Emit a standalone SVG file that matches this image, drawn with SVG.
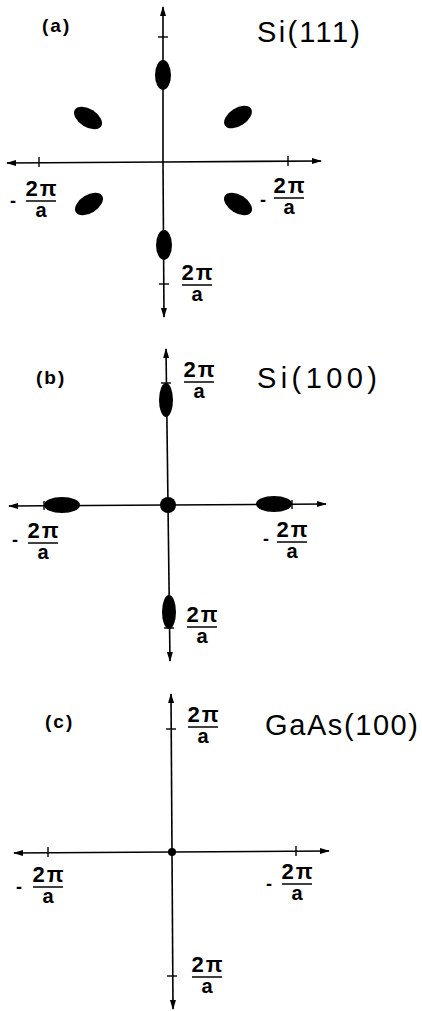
<svg xmlns="http://www.w3.org/2000/svg" width="422" height="1011" viewBox="0 0 422 1011">
<style>
.ax{stroke:#000;stroke-width:1.6;fill:none}
.tk{stroke:#000;stroke-width:1.4;fill:none}
.bar{stroke:#000;stroke-width:1.5}
.spot{fill:#000}
.num{font-family:"Liberation Sans",Arial,sans-serif;font-weight:bold;font-size:22px;text-anchor:middle;fill:#000}
.den{font-family:"Liberation Sans",Arial,sans-serif;font-weight:bold;font-size:20px;text-anchor:middle;fill:#000}
.neg{font-family:"Liberation Sans",Arial,sans-serif;font-weight:bold;font-size:18px;text-anchor:middle;fill:#000}
.pl{font-family:"Liberation Sans",Arial,sans-serif;font-weight:bold;font-size:19px;letter-spacing:2px;fill:#000}
.ttl{font-family:"Liberation Sans",Arial,sans-serif;font-size:29px;fill:#000}
</style>
<defs>
<marker id="arr" markerUnits="userSpaceOnUse" markerWidth="10" markerHeight="8" viewBox="0 0 10 8" refX="9" refY="4" orient="auto">
<path d="M0,1 L10,4 L0,7 Z" fill="#000"/>
</marker>
<g id="frac">
<text class="num" x="1" y="0" letter-spacing="2">2π</text>
<line class="bar" x1="-15" y1="5" x2="15" y2="5"/>
<text class="den" x="0" y="21">a</text>
</g>
</defs>

<!-- Panel (a) -->
<g id="panel-a">
<g id="axes-a">
<line class="ax" x1="163" y1="162" x2="163" y2="7" marker-end="url(#arr)"/>
<line class="ax" x1="163" y1="162" x2="164" y2="317" marker-end="url(#arr)"/>
<line class="ax" x1="163" y1="162" x2="7" y2="163" marker-end="url(#arr)"/>
<line class="ax" x1="163" y1="162" x2="321" y2="161" marker-end="url(#arr)"/>
<line class="tk" x1="158" y1="37" x2="168" y2="37"/>
<line class="tk" x1="159" y1="284" x2="169" y2="284"/>
<line class="tk" x1="39" y1="157" x2="39" y2="167"/>
<line class="tk" x1="288" y1="156" x2="288" y2="166"/>
</g>
<g id="a-spot-top"><ellipse class="spot" cx="163" cy="75" rx="8" ry="15"/></g>
<g id="a-spot-bottom"><ellipse class="spot" cx="164" cy="245" rx="8" ry="15"/></g>
<g id="a-spot-ul"><ellipse class="spot" cx="88" cy="118" rx="15.5" ry="9" transform="rotate(32 88 118)"/></g>
<g id="a-spot-ur"><ellipse class="spot" cx="238" cy="117" rx="15.5" ry="9" transform="rotate(-33 238 117)"/></g>
<g id="a-spot-ll"><ellipse class="spot" cx="89" cy="204" rx="15.5" ry="9" transform="rotate(-32 89 204)"/></g>
<g id="a-spot-lr"><ellipse class="spot" cx="238" cy="204" rx="15.5" ry="9" transform="rotate(32 238 204)"/></g>
<g id="a-labels">
<text class="pl" x="42" y="32">(a)</text>
<text class="ttl" x="257" y="42" textLength="103" lengthAdjust="spacing" font-size="27">Si(111)</text>
<text class="neg" x="13" y="207">-</text>
<use href="#frac" x="41" y="196"/>
<text class="neg" x="263" y="206">-</text>
<use href="#frac" x="289" y="193"/>
<use href="#frac" x="197" y="280"/>
</g>
</g>

<!-- Panel (b) -->
<g id="panel-b">
<g id="axes-b">
<line class="ax" x1="168" y1="505" x2="166" y2="349" marker-end="url(#arr)"/>
<line class="ax" x1="168" y1="505" x2="170" y2="661" marker-end="url(#arr)"/>
<line class="ax" x1="168" y1="505" x2="9" y2="506" marker-end="url(#arr)"/>
<line class="ax" x1="168" y1="505" x2="326" y2="504" marker-end="url(#arr)"/>
<line class="tk" x1="161" y1="383" x2="171" y2="383"/>
<line class="tk" x1="164" y1="628" x2="174" y2="628"/>
<line class="tk" x1="44" y1="501" x2="44" y2="510"/>
<line class="tk" x1="292" y1="500" x2="292" y2="509"/>
</g>
<g id="b-spot-center"><circle class="spot" cx="168" cy="505" r="8"/></g>
<g id="b-spot-top"><ellipse class="spot" cx="166" cy="400" rx="7" ry="17"/></g>
<g id="b-spot-bottom"><ellipse class="spot" cx="169" cy="612" rx="7" ry="17"/></g>
<g id="b-spot-left"><ellipse class="spot" cx="62" cy="505" rx="18" ry="8"/></g>
<g id="b-spot-right"><ellipse class="spot" cx="274" cy="504" rx="18" ry="8"/></g>
<g id="b-labels">
<text class="pl" x="36" y="384">(b)</text>
<text class="ttl" x="257" y="388" textLength="120" lengthAdjust="spacing">Si(100)</text>
<use href="#frac" x="199" y="377"/>
<text class="neg" x="15" y="546">-</text>
<use href="#frac" x="43" y="538"/>
<text class="neg" x="266" y="545">-</text>
<use href="#frac" x="292" y="537"/>
<use href="#frac" x="202" y="622"/>
</g>
</g>

<!-- Panel (c) -->
<g id="panel-c">
<g id="axes-c">
<line class="ax" x1="172" y1="852" x2="171" y2="694" marker-end="url(#arr)"/>
<line class="ax" x1="172" y1="852" x2="173" y2="1009" marker-end="url(#arr)"/>
<line class="ax" x1="172" y1="852" x2="14" y2="853" marker-end="url(#arr)"/>
<line class="ax" x1="172" y1="852" x2="329" y2="851" marker-end="url(#arr)"/>
<line class="tk" x1="166" y1="729" x2="176" y2="729"/>
<line class="tk" x1="167" y1="976" x2="177" y2="976"/>
<line class="tk" x1="48" y1="847" x2="48" y2="857"/>
<line class="tk" x1="296" y1="846" x2="296" y2="856"/>
</g>
<g id="c-spot-center"><circle class="spot" cx="172" cy="852" r="4"/></g>
<g id="c-labels">
<text class="pl" x="45" y="728">(c)</text>
<text class="ttl" x="265" y="735" textLength="153" lengthAdjust="spacing">GaAs(100)</text>
<use href="#frac" x="203" y="722"/>
<text class="neg" x="19" y="893">-</text>
<use href="#frac" x="48" y="882"/>
<text class="neg" x="269" y="890">-</text>
<use href="#frac" x="297" y="879"/>
<use href="#frac" x="207" y="972"/>
</g>
</g>
</svg>
